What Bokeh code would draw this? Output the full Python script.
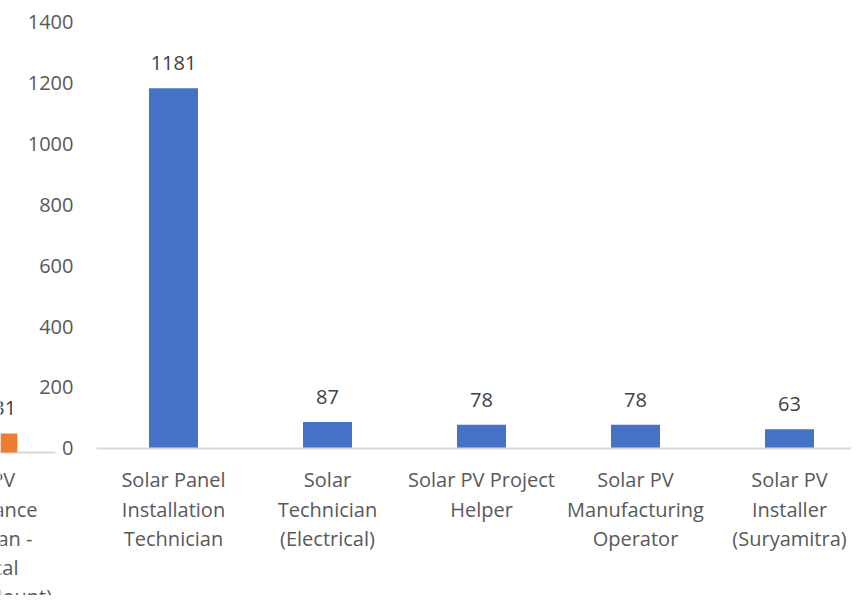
from bokeh.plotting import figure
from bokeh.models import Range1d, FixedTicker, LinearAxis, ColumnDataSource
from bokeh.embed import file_html
from bokeh.resources import INLINE
from bokeh.core.properties import value

# ---- data (main chart) ----
categories = [
    "Solar Panel\nInstallation\nTechnician",
    "Solar\nTechnician\n(Electrical)",
    "Solar PV Project\nHelper",
    "Solar PV\nManufacturing\nOperator",
    "Solar PV\nInstaller\n(Suryamitra)",
]
counts = [1181, 87, 78, 78, 63]
y_ticks = [0, 200, 400, 600, 800, 1000, 1200, 1400]

# ---- data (neighbouring chart, cut off at the left edge) ----
prev_categories = ["Solar PV\nMaintenance\nTechnician -\nElectrical\n(Ground Mount)"]
prev_counts = [31]

FONT = "Open Sans"
FS = "20px"
LH = 1.08
GREY = "#595959"
DARK = "#404040"
BLUE = "#4472C4"
ORANGE = "#ED7D31"
AXIS = "#D9D9D9"

W, H = 851, 595
idx = list(range(len(categories)))

p = figure(
    width=W, height=H,
    x_range=Range1d(-1.1234, 4.4026),
    y_range=Range1d(-482.0, 1468.9),
    x_axis_location=None, y_axis_location=None,
    toolbar_location=None, output_backend="svg",
    min_border=0, outline_line_color=None,
)
p.grid.visible = False

p.extra_x_ranges = {"prev": Range1d(0.1497, 5.570)}
p.extra_y_ranges = {"prev": Range1d(-233.3, 737.4)}

# main axes
xaxis = LinearAxis(
    ticker=FixedTicker(ticks=idx, minor_ticks=[]),
    major_label_overrides={i: c for i, c in zip(idx, categories)},
    fixed_location=0,
    bounds=(-0.5, len(categories) - 0.5),
    axis_line_color=AXIS, axis_line_width=2,
    major_tick_line_color=None, minor_tick_line_color=None,
    major_tick_out=0, major_tick_in=0, minor_tick_out=0, minor_tick_in=0,
    major_label_standoff=18,
    major_label_text_font=FONT, major_label_text_font_size=FS,
    major_label_text_color=GREY, major_label_text_line_height=LH,
)
p.add_layout(xaxis, "below")

yaxis = LinearAxis(
    ticker=FixedTicker(ticks=y_ticks, minor_ticks=[]),
    fixed_location=-0.5,
    axis_line_color=None,
    major_tick_line_color=None, minor_tick_line_color=None,
    major_tick_out=0, major_tick_in=0, minor_tick_out=0, minor_tick_in=0,
    major_label_standoff=23,
    major_label_text_font=FONT, major_label_text_font_size=FS,
    major_label_text_color=GREY,
)
p.add_layout(yaxis, "left")

# main bars + labels
src = ColumnDataSource(dict(x=idx, top=counts, lab=[str(c) for c in counts]))
p.vbar(x="x", top="top", width=0.318, source=src, color=BLUE, line_color=None)
p.text(x="x", y="top", text="lab", source=src, text_align="center",
       text_baseline="alphabetic", y_offset=-25,
       text_font=value(FONT), text_font_size=FS, text_color=DARK)

# neighbouring chart (only partly visible)
psrc = ColumnDataSource(dict(x=[0], top=prev_counts, lab=[str(c) for c in prev_counts],
                             cat=prev_categories))
p.segment(x0=-0.5, x1=0.5, y0=0, y1=0, x_range_name="prev", y_range_name="prev",
          line_color=AXIS, line_width=2)
p.vbar(x=0.177, top="top", width=0.16, source=psrc, color=ORANGE, line_color=None,
       x_range_name="prev", y_range_name="prev")
p.text(x=0.177, y="top", text="lab", source=psrc, text_align="center",
       text_baseline="alphabetic", y_offset=-25,
       x_range_name="prev", y_range_name="prev",
       text_font=value(FONT), text_font_size=FS, text_color=DARK)
p.text(x="x", y=0, text="cat", source=psrc, text_align="center",
       text_baseline="top", y_offset=14, text_line_height=LH,
       x_range_name="prev", y_range_name="prev",
       text_font=value(FONT), text_font_size=FS, text_color=GREY)

open("out.html", "w").write(file_html(p, INLINE))
